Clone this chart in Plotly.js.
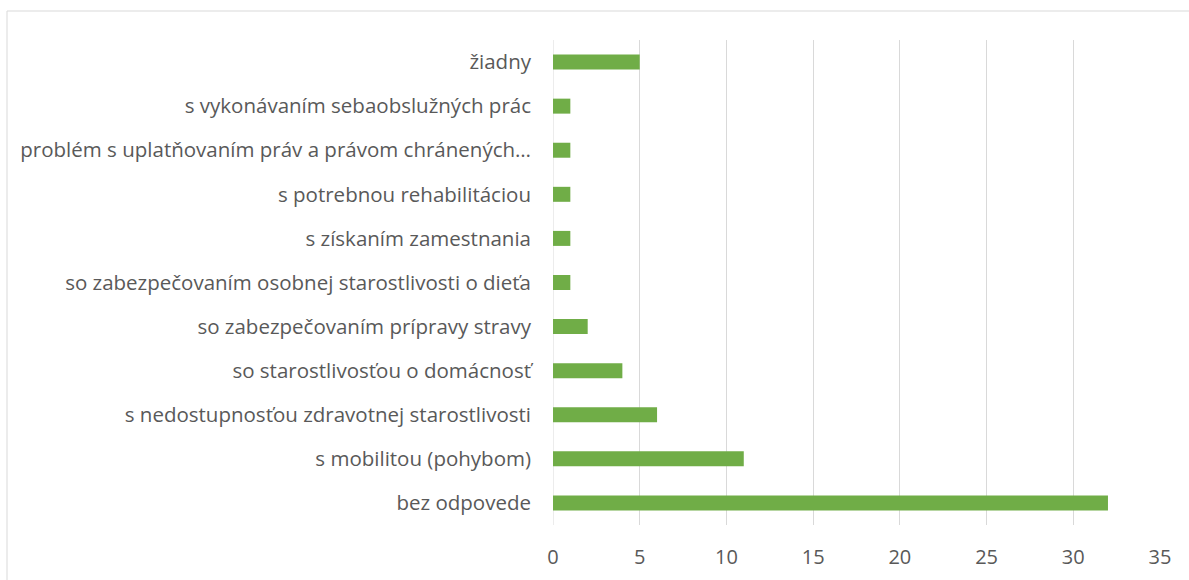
<!DOCTYPE html>
<html><head><meta charset="utf-8">
<script src="https://cdn.plot.ly/plotly-3.0.1.min.js"></script>
<style>html,body{margin:0;padding:0;background:#fff;}#chart{width:1189px;height:580px;}</style>
</head><body><div id="chart"></div>
<script>
const categories = [
  "bez odpovede",
  "s mobilitou (pohybom)",
  "s nedostupnosťou zdravotnej starostlivosti",
  "so starostlivosťou o domácnosť",
  "so zabezpečovaním prípravy stravy",
  "so zabezpečovaním osobnej starostlivosti o dieťa",
  "s získaním zamestnania",
  "s potrebnou rehabilitáciou",
  "problém s uplatňovaním práv a právom chránených…",
  "s vykonávaním sebaobslužných prác",
  "žiadny"
];
const values = [32, 11, 6, 4, 2, 1, 1, 1, 1, 1, 5];
const xTicks = [0, 5, 10, 15, 20, 25, 30, 35];

const trace = {
  type: 'bar', orientation: 'h',
  y: categories, x: values,
  marker: {color: '#70AD47'},
  hoverinfo: 'x+y'
};
const layout = {
  width: 1189, height: 580,
  margin: {l: 553, r: 29, t: 40, b: 55},
  paper_bgcolor: '#fff', plot_bgcolor: '#fff',
  bargap: 0.66,
  showlegend: false,
  font: {family: '"Open Sans", sans-serif', size: 20.5, color: '#595959'},
  xaxis: {
    range: [0, 35], tickvals: xTicks, ticktext: xTicks.map(String),
    showgrid: true, gridcolor: '#d9d9d9', gridwidth: 1,
    zeroline: false, showline: false, ticks: '',
    ticklabelstandoff: 18,
    tickfont: {size: 20, color: '#595959'}, fixedrange: true
  },
  yaxis: {
    type: 'category', categoryorder: 'array', categoryarray: categories,
    showgrid: false, zeroline: false, showline: false, ticks: '',
    ticklabelstandoff: 21,
    tickfont: {size: 20.5, color: '#595959'}, fixedrange: true
  },
  shapes: [
    {type: 'line', xref: 'x', yref: 'paper', x0: 0, x1: 0, y0: 0, y1: 1,
     line: {color: '#d9d9d9', width: 1}, layer: 'below'},
    {type: 'rect', xref: 'paper', yref: 'paper',
     x0: (7 - 553) / 607, x1: 1.2, y0: -0.3, y1: 1 + (40 - 11) / 485,
     line: {color: '#d9d9d9', width: 1}, fillcolor: 'rgba(0,0,0,0)', layer: 'below'}
  ]
};
Plotly.newPlot('chart', [trace], layout, {displayModeBar: false, staticPlot: true});
</script></body></html>
